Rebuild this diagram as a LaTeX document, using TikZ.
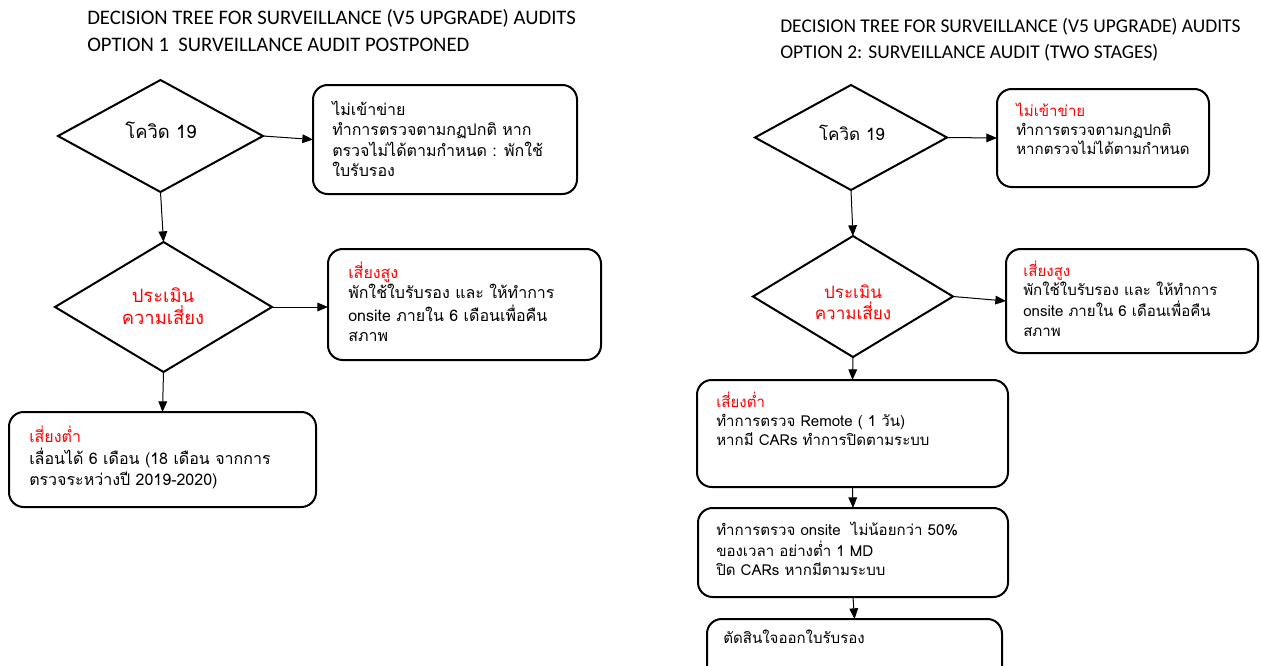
\documentclass[tikz,border=0pt]{standalone}
\usepackage{fontspec}
\newfontfamily\thai[Script=Thai]{Loma}
\newfontfamily\ttl{Carlito}
\usetikzlibrary{shapes.geometric,arrows.meta,fit}
\definecolor{hl}{RGB}{255,0,0}
\newcommand{\tlines}[1]{\begin{tabular}[t]{@{}l@{}}#1\end{tabular}}
\begin{document}
\begin{tikzpicture}[x=0.75pt,y=-0.75pt,
 box/.style={draw, line width=1.5pt, rounded corners=11pt, inner sep=0pt, outer sep=0pt},
 dia/.style={draw, diamond, line width=1.5pt, inner sep=0pt, outer sep=0pt},
 txtL/.style={font=\thai\fontsize{12}{15.4}\selectfont, inner sep=0pt, anchor=base west},
 txtR/.style={font=\thai\fontsize{11.3}{14.6}\selectfont, inner sep=0pt, anchor=base west},
 dtxtL/.style={font=\thai\fontsize{13.8}{16.5}\selectfont, align=center, inner sep=0pt},
 dtxtR/.style={font=\thai\fontsize{12.8}{15.5}\selectfont, align=center, inner sep=0pt},
 ttlA/.style={font=\ttl\fontsize{15.5}{18}\selectfont, inner sep=0pt, anchor=base west},
 ttlB/.style={font=\ttl\fontsize{14.6}{18}\selectfont, inner sep=0pt, anchor=base west},
 arr/.style={line width=0.75pt, -{Triangle[length=8pt,width=6.5pt]}}
]
\clip (0,0) rectangle (1261,665);
\fill[white] (0,0) rectangle (1261,665);

% titles
\node[ttlA] (tl1) at (87,24) {DECISION TREE FOR SURVEILLANCE (V5 UPGRADE) AUDITS};
\node[ttlA] (tl2) at (87,51) {OPTION 1\ \ SURVEILLANCE AUDIT POSTPONED};
\node[ttlB] (tr1) at (780,32) {DECISION TREE FOR SURVEILLANCE (V5 UPGRADE) AUDITS};
\node[ttlB] (tr2) at (780,58) {OPTION 2: SURVEILLANCE AUDIT (TWO STAGES)};

% ---------- left tree ----------
\node[dia, minimum width=153.75pt, minimum height=84pt] (d1) at (160.5,136) {};
\node[dia, minimum width=162.75pt, minimum height=97.5pt] (d2) at (163.5,307) {};
\node[box, fit={(313,85) (577,194)}] (b1) {};
\node[box, fit={(328,249) (601,360)}] (b2) {};
\node[box, fit={(9,412) (316,507)}] (b3) {};

\node[dtxtL] (d1t) at (161,130) {โควิด 19};
\node[dtxtL, text=hl] (d2t) at (163,306) {ประเมิน\\ความเสี่ยง};

\node[txtL] (b1t) at (332,115) {\tlines{ไม่เข้าข่าย\\ทำการตรวจตามกฏปกติ หาก\\ตรวจไม่ได้ตามกำหนด : พักใช้\\ใบรับรอง}};
\node[txtL] (b2t) at (348,278) {\tlines{\textcolor{hl}{เสี่ยงสูง}\\พักใช้ใบรับรอง และ ให้ทำการ\\onsite ภายใน 6 เดือนเพื่อคืน\\สภาพ}};
\node[txtL] (b3t) at (29,442) {\tlines{\textcolor{hl}{เสี่ยงต่ำ}\\เลื่อนได้ 6 เดือน (18 เดือน จากการ\\ตรวจระหว่างปี 2019-2020)}};

\draw[arr] (d1.east) -- (b1.west);
\draw[arr] (d1.south) -- (d2.north);
\draw[arr] (d2.east) -- (d2.east -| b2.west);
\draw[arr] (d2.south) -- (b3.north);

% ---------- right tree ----------
\node[dia, minimum width=144pt, minimum height=78.75pt] (d3) at (851,137.5) {};
\node[dia, minimum width=150pt, minimum height=90.75pt] (d4) at (853,296.5) {};
\node[box, fit={(997,89) (1209,187)}] (b4) {};
\node[box, fit={(1006,249) (1258,353)}] (b5) {};
\node[box, fit={(697,380) (1008,487)}] (b6) {};
\node[box, fit={(698,508) (1008,597)}] (b7) {};
\node[box, fit={(707,619) (1002,690)}] (b8) {};

\node[dtxtR] (d3t) at (852,133) {โควิด 19};
\node[dtxtR, text=hl] (d4t) at (853,302) {ประเมิน\\ความเสี่ยง};

\node[txtR] (b4t) at (1016,116) {\tlines{\textcolor{hl}{ไม่เข้าข่าย}\\ทำการตรวจตามกฏปกติ\\หากตรวจไม่ได้ตามกำหนด}};
\node[txtR] (b5t) at (1023,276) {\tlines{\textcolor{hl}{เสี่ยงสูง}\\พักใช้ใบรับรอง และ ให้ทำการ\\onsite ภายใน 6 เดือนเพื่อคืน\\สภาพ}};
\node[txtR] (b6t) at (716,407) {\tlines{\textcolor{hl}{เสี่ยงต่ำ}\\ทำการตรวจ Remote ( 1 วัน)\\หากมี CARs ทำการปิดตามระบบ}};
\node[txtR] (b7t) at (716,535) {\tlines{ทำการตรวจ onsite\ \ ไม่น้อยกว่า 50\%\\ของเวลา อย่างต่ำ 1 MD\\ปิด CARs หากมีตามระบบ}};
\node[txtR] (b8t) at (723,643) {ตัดสินใจออกใบรับรอง};

\draw[arr] (d3.east) -- (b4.west);
\draw[arr] (d3.south) -- (d4.north);
\draw[arr] (d4.east) -- (b5.west);
\draw[arr] (d4.south) -- (b6.north);
\draw[arr] (b6.south) -- (b7.north);
\draw[arr] (b7.south) -- (b8.north);
\end{tikzpicture}
\end{document}
